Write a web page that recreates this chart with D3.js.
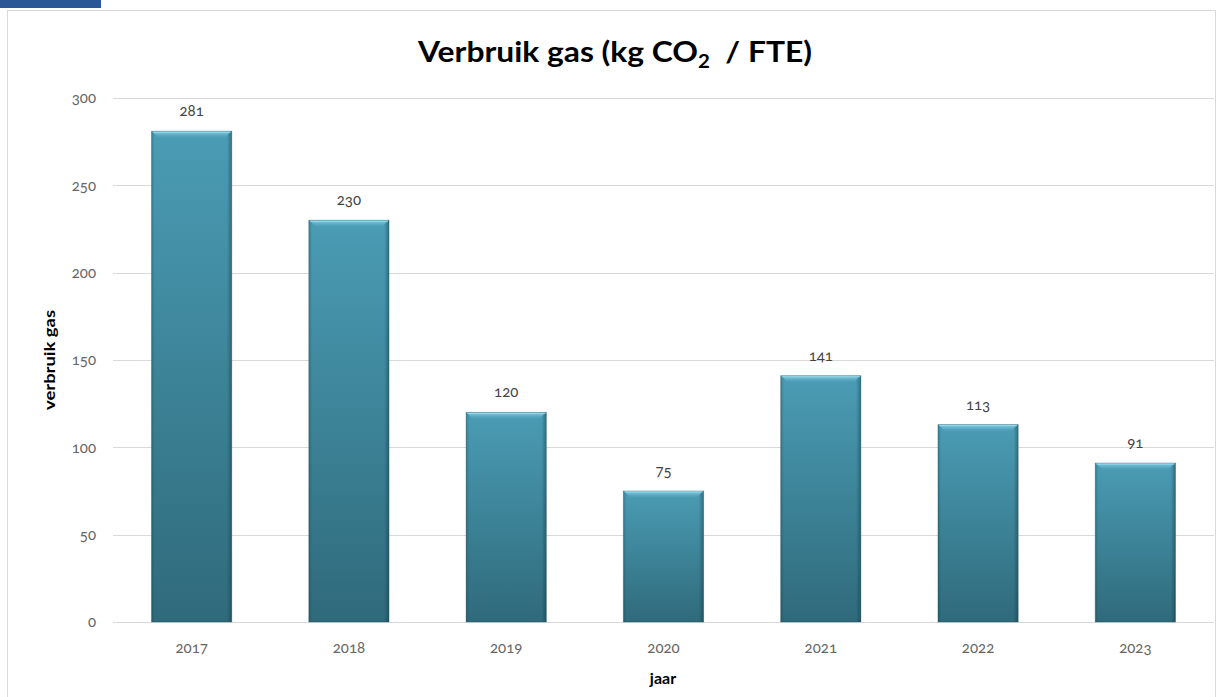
<!DOCTYPE html>
<html><head><meta charset="utf-8">
<script src="https://cdn.jsdelivr.net/npm/d3@7"></script>
<style>
html,body{margin:0;padding:0;background:#fff;}
svg{display:block;}
.num{font-family:Lato,"Noto Sans",sans-serif;font-variant-numeric:oldstyle-nums;font-feature-settings:"onum" 1;}
</style></head>
<body>
<svg id="c" width="1217" height="697"></svg>
<script>
const years = ["2017","2018","2019","2020","2021","2022","2023"];
const values = [281,230,120,75,141,113,91];
const yTicks = [0,50,100,150,200,250,300];
const titleMain = "Verbruik gas (kg CO";
const titleSub = "2";
const titleEnd = "  / FTE)";
const yTitle = "verbruik gas";
const xTitle = "jaar";

const svg = d3.select("#c");
const W = 1217, H = 697;
const m = {left:113, right:3, top:98, bottom:75};

const x = d3.scaleBand().domain(years).range([m.left, W - m.right]).paddingInner(0.49).paddingOuter(0.245);
const y = d3.scaleLinear().domain([0,300]).range([H - m.bottom, m.top]);

// top-left blue tab
svg.append("rect").attr("x",0).attr("y",0).attr("width",101).attr("height",8).attr("fill","#2b5797");
// frame
svg.append("rect").attr("x",7.5).attr("y",10.5).attr("width",1208).attr("height",700)
  .attr("fill","none").attr("stroke","#d9d9d9").attr("stroke-width",1);

const defs = svg.append("defs");
const gv = defs.append("linearGradient").attr("id","gv").attr("x1",0).attr("y1",0).attr("x2",0).attr("y2",1);
gv.append("stop").attr("offset","0%").attr("stop-color","#4a9cb4");
gv.append("stop").attr("offset","100%").attr("stop-color","#2f6a7b");
const gh = defs.append("linearGradient").attr("id","gh").attr("x1",0).attr("y1",0).attr("x2",1).attr("y2",0);
gh.append("stop").attr("offset","0%").attr("stop-color","#0b2f3a").attr("stop-opacity",0.25);
gh.append("stop").attr("offset","4%").attr("stop-color","#0b2f3a").attr("stop-opacity",0.0);
gh.append("stop").attr("offset","94%").attr("stop-color","#0b2f3a").attr("stop-opacity",0.0);
gh.append("stop").attr("offset","100%").attr("stop-color","#0b2f3a").attr("stop-opacity",0.4);
const gt = defs.append("linearGradient").attr("id","gt").attr("x1",0).attr("y1",0).attr("x2",0).attr("y2",1);
gt.append("stop").attr("offset","0%").attr("stop-color","#8fd8ec").attr("stop-opacity",0.95);
gt.append("stop").attr("offset","100%").attr("stop-color","#5fb0c8").attr("stop-opacity",0.0);

// gridlines
const grid = svg.append("g");
grid.selectAll("line").data(yTicks).join("line")
  .attr("x1", m.left).attr("x2", W - m.right)
  .attr("y1", d => Math.round(y(d)) + 0.5).attr("y2", d => Math.round(y(d)) + 0.5)
  .attr("stroke","#d9d9d9").attr("stroke-width",1);

// y axis labels
const yAxis = d3.axisLeft(y).tickValues(yTicks).tickSize(0).tickPadding(17);
const ya = svg.append("g").attr("transform",`translate(${m.left},0)`).call(yAxis);
ya.select(".domain").remove();
ya.selectAll("text").attr("class","num").attr("font-size",15).attr("fill","#666");

// x axis labels
const xAxis = d3.axisBottom(x).tickSize(0).tickPadding(20);
const xa = svg.append("g").attr("transform",`translate(0,${H - m.bottom})`).call(xAxis);
xa.select(".domain").remove();
xa.selectAll("text").attr("class","num").attr("font-size",15).attr("fill","#666");

// bars
const bars = svg.append("g");
const bw = x.bandwidth();
const bev = 7;
years.forEach((yr,i) => {
  const x0 = x(yr), y0 = y(values[i]), h = y(0) - y(values[i]);
  const g = bars.append("g");
  g.append("rect").attr("x",x0).attr("y",y0).attr("width",bw).attr("height",h).attr("fill","url(#gv)");
  g.append("rect").attr("x",x0).attr("y",y0).attr("width",bw).attr("height",h).attr("fill","url(#gh)");
  // top bevel
  g.append("path").attr("d",`M${x0+1},${y0}L${x0+bw-1},${y0}L${x0+bw-bev},${y0+bev}L${x0+bev},${y0+bev}Z`).attr("fill","url(#gt)");
  g.append("rect").attr("x",x0+1).attr("y",y0).attr("width",bw-2).attr("height",1.5).attr("fill","#9fdff0").attr("opacity",0.8);
  g.append("rect").attr("x",x0).attr("y",y0).attr("width",bw).attr("height",h).attr("fill","none").attr("stroke","#1d4a58").attr("stroke-opacity",0.35).attr("stroke-width",1);
});

// value labels
svg.append("g").selectAll("text").data(values).join("text")
  .attr("class","num")
  .attr("x",(d,i) => x(years[i]) + bw/2)
  .attr("y",d => y(d) - 15)
  .attr("text-anchor","middle").attr("font-size",15).attr("fill","#444")
  .text(d => d);

// title
const t = svg.append("text").attr("x",615).attr("y",62).attr("text-anchor","middle")
  .attr("font-family","Lato, 'Open Sans', sans-serif").attr("font-weight","bold").attr("font-size",28).attr("fill","#000")
  .attr("textLength",394).attr("lengthAdjust","spacingAndGlyphs");
t.append("tspan").text(titleMain);
t.append("tspan").attr("font-size",18).attr("dy",6).text(titleSub);
t.append("tspan").attr("dy",-6).attr("xml:space","preserve").style("white-space","pre").text(titleEnd);

// axis titles
svg.append("text").attr("transform",`translate(55,${(y(0)+y(300))/2}) rotate(-90)`)
  .attr("text-anchor","middle").attr("font-family","Lato, sans-serif").attr("font-weight","bold")
  .attr("font-size",15).attr("fill","#000").attr("textLength",100).attr("lengthAdjust","spacingAndGlyphs").text(yTitle);
svg.append("text").attr("x",663).attr("y",684).attr("text-anchor","middle")
  .attr("font-family","Lato, sans-serif").attr("font-weight","bold").attr("font-size",16).attr("fill","#000").text(xTitle);
</script>
</body></html>
